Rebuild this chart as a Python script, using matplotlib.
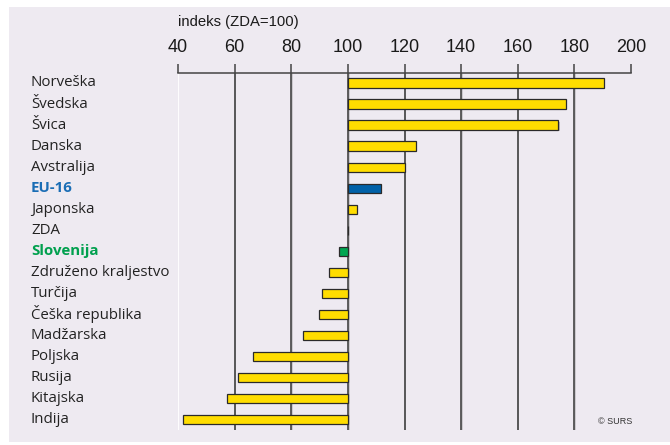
import matplotlib.pyplot as plt
import matplotlib.patheffects as pe
from matplotlib.patches import Rectangle

# podatki
drzave = ["Norveška", "Švedska", "Švica", "Danska", "Avstralija", "EU-16", "Japonska",
          "ZDA", "Slovenija", "Združeno kraljestvo", "Turčija", "Češka republika",
          "Madžarska", "Poljska", "Rusija", "Kitajska", "Indija"]
indeks = [190.5, 177, 174.3, 124, 120, 111.7, 103.1, 100, 97, 93.5, 91, 89.7,
          84.3, 66.6, 61.2, 57.2, 41.9]
ticks = [40, 60, 80, 100, 120, 140, 160, 180, 200]

bg = "#EEEAF1"
rumena = "#FFDD00"
modra = "#0061A8"
zelena = "#00A651"

barve = []
barve_txt = []
for d in drzave:
    if d == "EU-16":
        barve.append(modra)
        barve_txt.append("#1A6DB5")
    elif d == "Slovenija":
        barve.append(zelena)
        barve_txt.append("#00A04E")
    else:
        barve.append(rumena)
        barve_txt.append("#222222")

fig = plt.figure(figsize=(6.7, 4.45), dpi=100)
fig.patch.set_facecolor("white")
fig.patches.append(Rectangle((9 / 670, 1 - 442 / 445), 661 / 670, 435 / 445,
                             transform=fig.transFigure, facecolor=bg, edgecolor="none", zorder=-5))

ax = fig.add_axes([178 / 670, 1 - 430 / 445, 453 / 670, 357 / 445])
ax.set_facecolor("none")
ax.set_xlim(40, 200)
ax.set_ylim(16.52, -0.476)

# mreza
ax.axvline(40, color="white", lw=1.3, zorder=1)
for t in ticks[1:-1]:
    ax.axvline(t, color="#444444", lw=1.2, zorder=1,
               path_effects=[pe.SimpleLineShadow(offset=(0.5, 0), shadow_color="#888888", alpha=0.4), pe.Normal()])

y = list(range(len(drzave)))
sirine = [v - 100 for v in indeks]
ax.barh(y, sirine, left=100, height=0.43, color=barve, edgecolor="#2A2A2A", linewidth=0.9, zorder=3,
        path_effects=[pe.SimplePatchShadow(offset=(1, -1), shadow_rgbFace="#888888", alpha=0.45), pe.Normal()])

# oznake drzav
for i, d in enumerate(drzave):
    utez = "bold" if d in ("EU-16", "Slovenija") else "normal"
    ax.text((31 - 178) / 453, i, d, transform=ax.get_yaxis_transform(), ha="left", va="center",
            fontsize=10.8, color=barve_txt[i], fontweight=utez, family="Open Sans")

# zgornja os
for s in ["bottom", "left", "right"]:
    ax.spines[s].set_visible(False)
ax.spines["top"].set_color("#444444")
ax.spines["top"].set_linewidth(1.1)
ax.xaxis.tick_top()
ax.set_xticks(ticks)
ax.set_xticklabels([str(t) for t in ticks], fontsize=13, family="Liberation Sans", color="#1A1A1A")
ax.tick_params(axis="x", direction="out", length=6.5, width=1.1, color="#444444", pad=6)
ax.set_yticks([])

fig.text(178 / 670, 1 - 22 / 445, "indeks (ZDA=100)", fontsize=10.7, family="Liberation Sans",
         color="#1A1A1A", ha="left", va="center")
fig.text(598 / 670, 1 - 422 / 445, "© SURS", fontsize=6.5, family="Liberation Sans",
         color="#333333", ha="left", va="center")

plt.savefig("out.png", dpi=100, facecolor=fig.get_facecolor())
